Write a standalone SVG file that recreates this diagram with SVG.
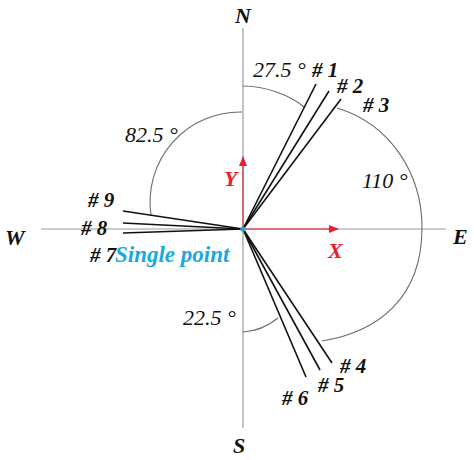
<svg xmlns="http://www.w3.org/2000/svg" width="474" height="460" viewBox="0 0 474 460">
<style>
.axis{stroke:#9a9a9a;stroke-width:1.2;fill:none}
.arc{stroke:#6a6a6a;stroke-width:1.1;fill:none}
.ray{stroke:#111;stroke-width:1.6;fill:none}
.red{stroke:#e8202a;stroke-width:1.1;fill:none}
text{font-family:"Liberation Serif","Times New Roman",serif;font-style:italic;fill:#111}
.dir{font-size:22px;font-weight:bold}
.ang{font-size:22px}
.lab{font-size:21px;font-weight:bold}
.xy{font-size:22px;font-weight:bold;fill:#e8202a}
.sp{font-size:23px;font-weight:bold;fill:#1ca8dd}
</style>
<defs>
<marker id="ah" markerWidth="10" markerHeight="8" refX="9" refY="4" orient="auto" markerUnits="userSpaceOnUse">
<path d="M0,0 L10,4 L0,8 Z" fill="#e8202a"/>
</marker>
</defs>
<g id="axes">
<line class="axis" x1="243" y1="28" x2="243" y2="428"/>
<line class="axis" x1="41" y1="229" x2="446" y2="229"/>
</g>
<g id="arcs">
<path class="arc" d="M243,86 C265,86 290,95 304,107"/>
<path class="arc" d="M337,108 C390,124 422,173 422,228 C422,298 378,332 322,341"/>
<path class="arc" d="M242,112 A90 90 0 0 0 151,215"/>
<path class="arc" d="M243,332 Q262,331 278,318"/>
</g>
<g id="connectors">
<line class="ray" x1="243" y1="229" x2="316" y2="84"/>
<line class="ray" x1="243" y1="229" x2="329" y2="91"/>
<line class="ray" x1="243" y1="229" x2="341" y2="99"/>
<line class="ray" x1="243" y1="229" x2="332" y2="363"/>
<line class="ray" x1="243" y1="229" x2="320" y2="370"/>
<line class="ray" x1="243" y1="229" x2="306" y2="377"/>
<line class="ray" x1="243" y1="229" x2="123" y2="233"/>
<line class="ray" x1="243" y1="229" x2="123" y2="223"/>
<line class="ray" x1="243" y1="229" x2="123" y2="211"/>
<line class="red" x1="243" y1="229" x2="243" y2="157" marker-end="url(#ah)"/>
<line class="red" x1="243" y1="229" x2="338" y2="229" marker-end="url(#ah)"/>
</g>
<g id="center"><circle cx="243" cy="229" r="2.6" fill="#1ca8dd"/></g>
<g id="directions">
<text class="dir" x="243" y="23" text-anchor="middle">N</text>
<text class="dir" x="5" y="245">W</text>
<text class="dir" x="233" y="453">S</text>
<text class="dir" x="453" y="244">E</text>
</g>
<g id="angles">
<text class="ang" x="253" y="77">27.5 °</text>
<text class="ang" x="125" y="142">82.5 °</text>
<text class="ang" x="362" y="188">110 °</text>
<text class="ang" x="183" y="325">22.5 °</text>
</g>
<g id="labels">
<text class="lab" x="312" y="77"># 1</text>
<text class="lab" x="337" y="93"># 2</text>
<text class="lab" x="363" y="112"># 3</text>
<text class="lab" x="340" y="373"># 4</text>
<text class="lab" x="318" y="392"># 5</text>
<text class="lab" x="282" y="405"># 6</text>
<text class="lab" x="90" y="262"># 7</text>
<text class="lab" x="81" y="235"># 8</text>
<text class="lab" x="88" y="207"># 9</text>
</g>
<g id="xy">
<text class="xy" x="224" y="186">Y</text>
<text class="xy" x="328" y="258">X</text>
</g>
<g id="single-point"><text class="sp" x="115" y="262">Single point</text></g>
</svg>
